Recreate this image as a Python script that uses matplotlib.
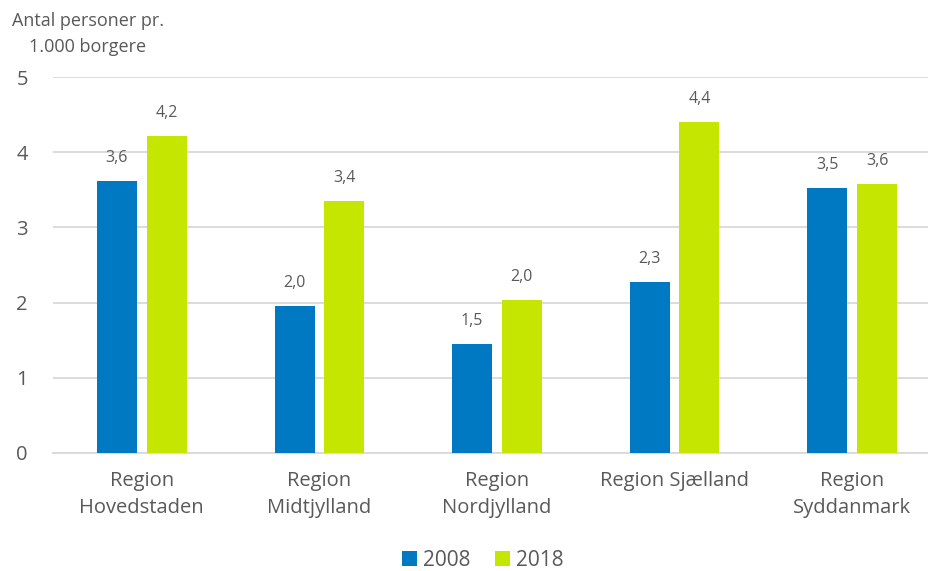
import matplotlib.pyplot as plt
import numpy as np

regions = ['Region\nHovedstaden', 'Region\nMidtjylland', 'Region\nNordjylland',
           'Region Sjælland', 'Region\nSyddanmark']
v2008 = [3.62, 1.96, 1.45, 2.28, 3.52]
v2018 = [4.21, 3.35, 2.03, 4.40, 3.58]
lab2008 = ['3,6', '2,0', '1,5', '2,3', '3,5']
lab2018 = ['4,2', '3,4', '2,0', '4,4', '3,6']
years = ['2008', '2018']

def main():
    plt.rcParams['font.family'] = ['Open Sans', 'DejaVu Sans']
    grey = '#595959'
    c_blue, c_green = '#0079C2', '#C5E600'

    fig = plt.figure(figsize=(9.29, 5.71), dpi=100)
    left = 53 / 929
    ax = fig.add_axes([left, 1 - 453 / 571, 1 - left, (453 - 77) / 571])

    x = np.arange(len(regions))
    w = 0.225
    off = 0.14
    b1 = ax.bar(x - off, v2008, w, color=c_blue, label=years[0], zorder=3)
    b2 = ax.bar(x + off, v2018, w, color=c_green, label=years[1], zorder=3)

    for bars, labs in ((b1, lab2008), (b2, lab2018)):
        for b, t in zip(bars, labs):
            ax.annotate(t, (b.get_x() + b.get_width() / 2, b.get_height()),
                        xytext=(0, 23), textcoords='offset pixels',
                        ha='center', va='center', fontsize=11.5, color=grey)

    ax.set_ylim(0, 5)
    ax.set_xlim(-0.5, 4.5 - 12 / 177.75)
    ax.set_yticks(range(6))
    ax.yaxis.grid(True, color='#D9D9D9', linewidth=1.3, zorder=0)
    ax.set_xticks(x)
    ax.set_xticklabels(regions, fontsize=14.5, color=grey, linespacing=1.45)
    ax.tick_params(axis='y', labelsize=14.5, labelcolor=grey, length=0, pad=18)
    ax.tick_params(axis='x', length=0, pad=13)
    for s in ['top', 'right', 'left']:
        ax.spines[s].set_visible(False)
    ax.spines['bottom'].set_color('#D9D9D9')
    ax.spines['bottom'].set_linewidth(1.3)

    fig.text(88 / 929, 1 - 34 / 571, 'Antal personer pr.\n1.000 borgere',
             ha='center', va='center', fontsize=13, color=grey, linespacing=1.55)

    fig.legend(loc='center', bbox_to_anchor=(483 / 929, 1 - 560 / 571), ncol=2,
               frameon=False, fontsize=15, labelcolor=grey, handlelength=0.7,
               handleheight=0.7, handletextpad=0.3, columnspacing=1.2)

    fig.savefig('out.png', dpi=100)

if __name__ == '__main__':
    main()
